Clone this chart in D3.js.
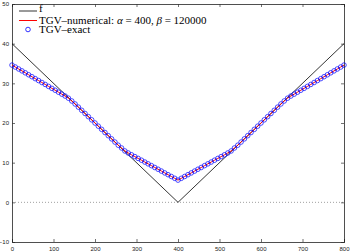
<!DOCTYPE html>
<html><head><meta charset="utf-8">
<script src="https://cdn.jsdelivr.net/npm/d3@7"></script>
<style>body{margin:0;background:#fff}svg{display:block}</style>
</head><body><svg id="c" width="350" height="251"></svg>
<script>
const xTicks = [0,100,200,300,400,500,600,700,800];
const yTicks = [-10,0,10,20,30,40,50];
const fX = [0,400,800];
const fY = [40,0,40];
const tgvX = d3.range(0,801,8);
const tgvLeft = [34.6,34.11,33.62,33.14,32.65,32.16,31.67,31.18,30.70,30.21,29.72,29.23,28.74,28.26,27.77,27.28,26.8,26.25,25.55,24.8,24.0,23.2,22.4,21.6,20.8,20.0,19.2,18.4,17.6,16.8,16.0,15.2,14.4,13.7,12.95,12.44,11.98,11.53,11.07,10.62,10.16,9.70,9.25,8.79,8.34,7.88,7.42,6.97,6.51,6.06,5.6];
const tgvRight = [6.06,6.51,6.97,7.42,7.88,8.34,8.79,9.25,9.70,10.16,10.62,11.07,11.53,11.98,12.44,12.95,13.7,14.4,15.2,16.0,16.8,17.6,18.4,19.2,20.0,20.8,21.6,22.4,23.2,24.0,24.8,25.55,26.25,26.8,27.28,27.77,28.26,28.74,29.23,29.72,30.21,30.70,31.18,31.67,32.16,32.65,33.14,33.62,34.11,34.6];
const tgvNumerical = tgvLeft.concat(tgvRight);
const tgvExact = tgvLeft.concat(tgvRight);
const legendLabels = ["f","TGV\u2013numerical: ", "TGV\u2013exact"];

const svg = d3.select("#c");
const L=12,R=344,T=4,B=242;
const x = d3.scaleLinear().domain([0,800]).range([L,R]);
const y = d3.scaleLinear().domain([-10,50]).range([B,T]);

// zero dotted line
svg.append("line").attr("x1",L).attr("x2",R).attr("y1",y(0)).attr("y2",y(0))
  .attr("stroke","#888").attr("stroke-width",0.8).attr("stroke-dasharray","1,2");

// axes
const fs = 6;
const gB = svg.append("g").attr("transform",`translate(0,${B})`)
  .call(d3.axisBottom(x).tickValues(xTicks).tickSize(-3).tickPadding(4).tickFormat(d3.format("d")));
const gT = svg.append("g").attr("transform",`translate(0,${T})`)
  .call(d3.axisTop(x).tickValues(xTicks).tickSize(-3).tickFormat(""));
const gL = svg.append("g").attr("transform",`translate(${L},0)`)
  .call(d3.axisLeft(y).tickValues(yTicks).tickSize(-3).tickPadding(3).tickFormat(d=>d<0?"\u2212"+(-d):d));
const gR = svg.append("g").attr("transform",`translate(${R},0)`)
  .call(d3.axisRight(y).tickValues(yTicks).tickSize(-3).tickFormat(""));
[gB,gT,gL,gR].forEach(g=>{
  g.selectAll(".domain").attr("stroke","#222").attr("stroke-width",0.8);
  g.selectAll(".tick line").attr("stroke","#333").attr("stroke-width",0.7);
  g.selectAll("text").attr("font-family","Liberation Sans, Arial, sans-serif").attr("font-size",fs).attr("fill","#222");
});
gB.selectAll("text").attr("dy","0.9em");

// f
const line = d3.line().x((d,i)=>x(d[0])).y(d=>y(d[1]));
svg.append("path").datum(fX.map((v,i)=>[v,fY[i]])).attr("d",line)
  .attr("fill","none").attr("stroke","#000").attr("stroke-width",0.8);
// numerical
svg.append("path").datum(tgvX.map((v,i)=>[v,tgvNumerical[i]])).attr("d",line)
  .attr("fill","none").attr("stroke","#ff0000").attr("stroke-width",1);
// exact markers
svg.append("g").selectAll("circle").data(tgvX.map((v,i)=>[v,tgvExact[i]])).join("circle")
  .attr("cx",d=>x(d[0])).attr("cy",d=>y(d[1])).attr("r",2.3)
  .attr("fill","none").attr("stroke","#0000ff").attr("stroke-width",0.7);

// legend
const lg = svg.append("g").attr("font-family","Liberation Serif, Times New Roman, serif").attr("font-size",11);
const ly = [11,20.5,29.5];
lg.append("line").attr("x1",19).attr("x2",37).attr("y1",ly[0]).attr("y2",ly[0]).attr("stroke","#000").attr("stroke-width",0.8);
lg.append("line").attr("x1",19).attr("x2",37).attr("y1",ly[1]).attr("y2",ly[1]).attr("stroke","#ff0000").attr("stroke-width",1);
lg.append("circle").attr("cx",28).attr("cy",ly[2]).attr("r",2.3).attr("fill","none").attr("stroke","#0000ff").attr("stroke-width",0.8);
lg.append("text").attr("x",39).attr("y",ly[0]).attr("dy","0.1em").text(legendLabels[0]);
const t2 = lg.append("text").attr("x",39).attr("y",ly[1]).attr("dy","0.35em");
t2.append("tspan").text(legendLabels[1]);
t2.append("tspan").attr("font-style","italic").text("\u03b1");
t2.append("tspan").text(" = 400, ");
t2.append("tspan").attr("font-style","italic").text("\u03b2");
t2.append("tspan").text(" = 120000");
lg.append("text").attr("x",39).attr("y",ly[2]).attr("dy","0.35em").text(legendLabels[2]);
</script></body></html>
